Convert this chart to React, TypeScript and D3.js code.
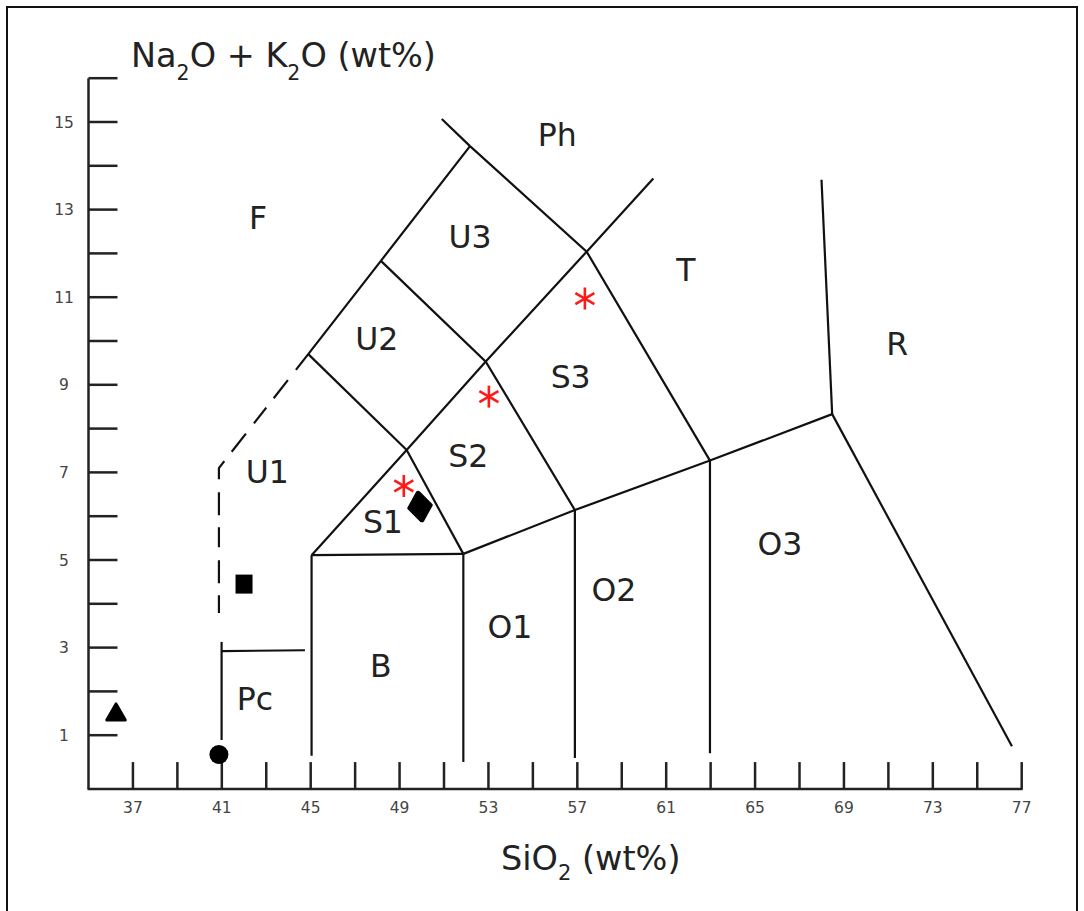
import React from "react";
import * as d3 from "d3";

const W = 1084;
const H = 911;

// Axis ticks
const xTicks = d3.range(37, 78, 2);
const xTickLabels = [37, 41, 45, 49, 53, 57, 61, 65, 69, 73, 77];
const yTicks = d3.range(1, 17, 1);
const yTickLabels = [1, 3, 5, 7, 9, 11, 13, 15];

// TAS field boundaries [SiO2, Na2O+K2O]
const lineS1LeftToT = [[45.04, 5.11], [49.32, 7.51], [52.88, 9.53], [57.42, 12.04], [60.42, 13.71]];
const lineBasaltTop = [[45.04, 5.11], [51.87, 5.14]];
const lineS1Right = [[49.32, 7.51], [51.87, 5.14]];
const lineAlkaline = [[51.87, 5.14], [56.89, 6.14], [62.97, 7.27], [68.47, 8.33]];
const lineRhyoDacite = [[68.47, 8.33], [76.56, 0.75]];
const lineRhyoTrachyte = [[68.47, 8.33], [67.99, 13.68]];
const lineU1U2 = [[44.89, 9.7], [49.32, 7.51]];
const lineU2U3S2S3 = [[48.16, 11.83], [52.88, 9.53], [56.89, 6.14]];
const lineU3S3T = [[52.17, 14.45], [57.42, 12.04], [62.97, 7.27]];
const linePh = [[50.9, 15.07], [52.17, 14.45]];
const lineFoidite = [[44.89, 9.7], [48.16, 11.83], [52.17, 14.45]];
const lineFoiditeDashed = [[44.89, 9.7], [40.87, 7.1], [40.87, 3.79]];
const linePcLeft = [[40.99, 0.89], [40.99, 3.13]];
const linePcTop = [[41.0, 2.92], [44.74, 2.94]];
const line45 = [[45.04, 5.11], [45.04, 0.53]];
const line52 = [[51.87, 5.14], [51.87, 0.39]];
const line57 = [[56.89, 6.14], [56.89, 0.48]];
const line63 = [[62.97, 7.27], [62.97, 0.59]];

const solidLines = [
  lineS1LeftToT, lineBasaltTop, lineS1Right, lineAlkaline, lineRhyoDacite,
  lineRhyoTrachyte, lineU1U2, lineU2U3S2S3, lineU3S3T, linePh, lineFoidite,
  linePcLeft, linePcTop, line45, line52, line57, line63,
];

// Field labels
const fieldNames = ["F", "Ph", "U3", "U2", "T", "R", "S3", "S2", "U1", "S1", "O3", "O2", "O1", "B", "Pc"];
const fieldX = [42.63, 56.1, 52.17, 47.97, 61.89, 71.4, 56.7, 52.09, 43.05, 48.25, 66.12, 58.65, 53.97, 48.16, 42.49];
const fieldY = [12.81, 14.7, 12.39, 10.06, 11.64, 9.95, 9.19, 7.39, 7.02, 5.87, 5.37, 4.32, 3.47, 2.58, 1.83];

// Samples
const starSiO2 = [57.34, 53.02, 49.19];
const starAlk = [10.97, 8.73, 6.69];
const diamondSample = [49.92, 6.22];
const squareSample = [42.0, 4.45];
const circleSample = [40.87, 0.56];
const triangleSample = [36.24, 1.47];

const FONT = "DejaVu Sans";

export default function App() {
  const x = d3.scaleLinear().domain([35, 77]).range([88.5, 1021.7]);
  const y = d3.scaleLinear().domain([0, 16]).range([779, 78.2]);
  const axisY = y(-0.23);
  const line = d3
    .line<number[]>()
    .x((d) => x(d[0]))
    .y((d) => y(d[1]));

  const tri = d3.symbol().type(d3.symbolTriangle).size(148)();
  const dia = d3.symbol().type(d3.symbolDiamond).size(230)();

  const starArms = [90, 30, -30];

  return (
    <svg
      width={W}
      height={H}
      style={{ position: "absolute", left: 0, top: 0, display: "block", background: "#fff" }}
      fontFamily={FONT}
    >
      <rect x={0} y={0} width={W} height={H} fill="#fff" />
      {/* frame */}
      <path d={`M7,${H + 5} L7,7 L1077,7 L1077,${H + 5}`} fill="none" stroke="#111" strokeWidth={2} />

      {/* y axis */}
      <line x1={x(35)} x2={x(35)} y1={y(16)} y2={axisY} stroke="#222" strokeWidth={2.5} />
      {yTicks.map((t) => (
        <line key={"yt" + t} x1={x(35)} x2={x(35) + 29} y1={y(t)} y2={y(t)} stroke="#222" strokeWidth={2.5} />
      ))}
      {yTickLabels.map((t) => (
        <text key={"yl" + t} x={64} y={y(t)} dy="0.36em" textAnchor="middle" fontSize={15.5} fill="#444">
          {t}
        </text>
      ))}

      {/* x axis */}
      <line x1={x(35) - 1} x2={x(77) + 1} y1={axisY} y2={axisY} stroke="#222" strokeWidth={2.5} />
      {xTicks.map((t) => (
        <line key={"xt" + t} x1={x(t)} x2={x(t)} y1={axisY} y2={axisY - 27} stroke="#222" strokeWidth={2.5} />
      ))}
      {xTickLabels.map((t) => (
        <text key={"xl" + t} x={x(t)} y={axisY + 24} textAnchor="middle" fontSize={15.5} fill="#444">
          {t}
        </text>
      ))}

      {/* axis titles */}
      <text x={131} y={67} fontSize={33.5} fill="#222">
        Na<tspan dy={13} fontSize={20.5}>2</tspan>
        <tspan dy={-13}>O + K</tspan>
        <tspan dy={13} fontSize={20.5}>2</tspan>
        <tspan dy={-13}>O (wt%)</tspan>
      </text>
      <text x={501} y={870} fontSize={33.5} fill="#222">
        SiO<tspan dy={10} fontSize={21}>2</tspan>
        <tspan dy={-10}> (wt%)</tspan>
      </text>

      {/* boundaries */}
      {solidLines.map((l, i) => (
        <path key={"l" + i} d={line(l) || ""} fill="none" stroke="#111" strokeWidth={2.2} />
      ))}
      <path
        d={line(lineFoiditeDashed) || ""}
        fill="none"
        stroke="#111"
        strokeWidth={2.2}
        strokeDasharray="20,13,23,12"
      />

      {/* field labels */}
      {fieldNames.map((n, i) => (
        <text
          key={"f" + n}
          x={x(fieldX[i])}
          y={y(fieldY[i])}
          dy="0.36em"
          textAnchor="middle"
          fontSize={31.5}
          fill="#222"
        >
          {n}
        </text>
      ))}

      {/* samples */}
      {starSiO2.map((s, i) => (
        <g key={"s" + i} transform={`translate(${x(s)},${y(starAlk[i])})`}>
          {starArms.map((a) => {
            const r = 11;
            const dx = r * Math.cos((a * Math.PI) / 180);
            const dy = r * Math.sin((a * Math.PI) / 180);
            return <line key={a} x1={-dx} y1={-dy} x2={dx} y2={dy} stroke="#ff1a1a" strokeWidth={2.6} />;
          })}
        </g>
      ))}
      <path
        d={dia || ""}
        transform={`translate(${x(diamondSample[0])},${y(diamondSample[1])}) rotate(-8) scale(1.3,1)`}
        fill="#000"
        stroke="#000"
        strokeWidth={3.5}
        strokeLinejoin="round"
      />
      <rect
        x={x(squareSample[0]) - 8.5}
        y={y(squareSample[1]) - 9.5}
        width={17}
        height={19}
        fill="#000"
      />
      <circle cx={x(circleSample[0])} cy={y(circleSample[1])} r={9.5} fill="#000" />
      <path
        d={tri || ""}
        transform={`translate(${x(triangleSample[0])},${y(triangleSample[1])})`}
        fill="#000"
        stroke="#000"
        strokeWidth={3}
        strokeLinejoin="round"
      />
    </svg>
  );
}
